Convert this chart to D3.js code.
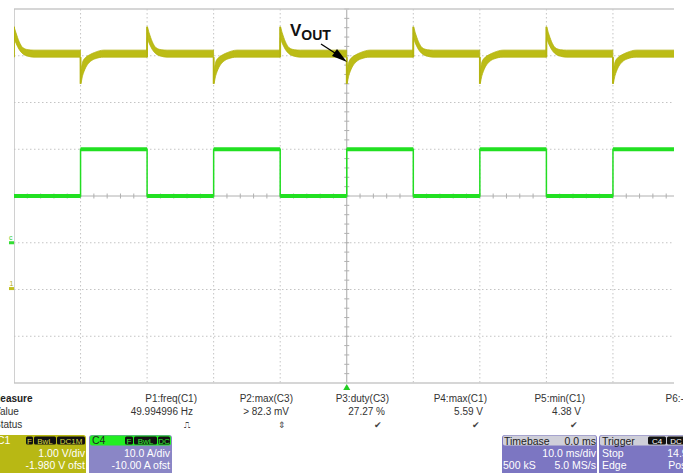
<!DOCTYPE html>
<html><head><meta charset="utf-8">
<script src="https://cdn.jsdelivr.net/npm/d3@7"></script>
<style>
html,body{margin:0;padding:0;background:#fff;}
svg{display:block;font-family:"Liberation Sans",Arial,sans-serif;}
</style></head>
<body><svg id="c" width="683" height="473"></svg>
<script>
// ---- data ----
const timeDomainMs = [-50, 50];            // 10 ms/div, 10 divisions
const c1Center = 1.98, c1VoltsPerDiv = 1.0; // -1.980 V offset, 1.00 V/div
const c4Center = 10,  c4AmpsPerDiv = 10;    // -10.00 A offset, 10.0 A/div
const loadTimesMs = [-50, -40, -30, -20, -10, 0, 10, 20, 30, 40, 50];
const loadAmps    = [10, 20, 10, 20, 10, 20, 10, 20, 10, 20, 20];
const loadStepUpMs   = [-40, -20, 0, 20, 40];      // Vout dips
const loadStepDownMs = [-50, -30, -10, 10, 30];    // Vout overshoots
const baselineBand = [4.95, 5.10];                  // V (lo, hi)
// [ms after edge, lo V, hi V]
const overshootShape = [[0,5.35,5.60],[0.3,5.25,5.47],[0.75,5.12,5.29],[1.35,5.02,5.15],[2.1,4.97,5.11],[3.0,4.95,5.10]];
const dipShape       = [[0,4.38,4.66],[0.3,4.55,4.84],[0.75,4.72,4.94],[1.35,4.84,5.00],[2.1,4.91,5.05],[3.5,4.95,5.10]];
const measHeaders = ["P1:freq(C1)","P2:max(C3)","P3:duty(C3)","P4:max(C1)","P5:min(C1)","P6:- -"];
const measValues  = ["49.994996 Hz","> 82.3 mV","27.27 %","5.59 V","4.38 V",""];
const measStatus  = ["\u238D","\u21D5","\u2714","\u2714","\u2714",""];

// ---- layout ----
const svg = d3.select("#c");
const L = 14, R = 679.5, T = 9, B = 383, CLIPR = 674;
const x = d3.scaleLinear().domain(timeDomainMs).range([L, R]);
const yV = d3.scaleLinear().domain([c1Center - 4*c1VoltsPerDiv, c1Center + 4*c1VoltsPerDiv]).range([B, T]);
const yA = d3.scaleLinear().domain([c4Center - 4*c4AmpsPerDiv, c4Center + 4*c4AmpsPerDiv]).range([B, T]);

svg.append("defs").append("clipPath").attr("id","pc")
  .append("rect").attr("x", L).attr("y", T-2).attr("width", CLIPR-L).attr("height", B-T+4);
const g = svg.append("g").attr("clip-path","url(#pc)");

// grid
const xt = d3.range(-50, 51, 10), yt = d3.range(-4, 5, 1);
g.selectAll(".vg").data(xt.filter(d=>d!==0 && d!==-50)).join("line")
  .attr("x1", d=>x(d)).attr("x2", d=>x(d)).attr("y1", T).attr("y2", B)
  .attr("stroke","#c4c4c4").attr("stroke-dasharray","1.5,2.5").attr("stroke-width",1);
g.selectAll(".hg").data(yt.filter(d=>d!==0 && Math.abs(d)!==4)).join("line")
  .attr("x1", L).attr("x2", R).attr("y1", d=>yA(c4Center + d*c4AmpsPerDiv)).attr("y2", d=>yA(c4Center + d*c4AmpsPerDiv))
  .attr("stroke","#c4c4c4").attr("stroke-dasharray","1.5,2.5").attr("stroke-width",1);
// center cross with minor ticks
const cy = yA(c4Center), cx = x(0);
g.append("line").attr("x1",L).attr("x2",R).attr("y1",cy).attr("y2",cy).attr("stroke","#b0b0b0");
g.append("line").attr("x1",cx).attr("x2",cx).attr("y1",T).attr("y2",B).attr("stroke","#a8a8a8");
const minorX = d3.range(-50, 50.01, 2), minorY = d3.range(-4, 4.01, 0.2);
g.selectAll(".mx").data(minorX).join("line").attr("x1",d=>x(d)).attr("x2",d=>x(d)).attr("y1",cy-2.5).attr("y2",cy+2.5).attr("stroke","#b0b0b0");
g.selectAll(".my").data(minorY).join("line").attr("y1",d=>yA(c4Center+d*c4AmpsPerDiv)).attr("y2",d=>yA(c4Center+d*c4AmpsPerDiv)).attr("x1",cx-2.5).attr("x2",cx+2.5).attr("stroke","#b0b0b0");
// border
g.append("line").attr("x1",L).attr("x2",R).attr("y1",T).attr("y2",T).attr("stroke","#c8c8c8").attr("stroke-width",1.5);
g.append("line").attr("x1",L).attr("x2",R).attr("y1",B).attr("y2",B).attr("stroke","#c8c8c8").attr("stroke-width",1.5);
g.append("line").attr("x1",L).attr("x2",L).attr("y1",T).attr("y2",B).attr("stroke","#c0c0c0").attr("stroke-width",1.5);

// ---- C1 (Vout) trace envelope ----
const edges = loadStepUpMs.map(t=>({t, s:dipShape})).concat(loadStepDownMs.map(t=>({t, s:overshootShape}))).sort((a,b)=>a.t-b.t);
const pts = [];
edges.forEach((e,i)=>{
  e.s.forEach(p=>pts.push({t:e.t+p[0], lo:p[1], hi:p[2]}));
  const next = i < edges.length-1 ? edges[i+1].t : timeDomainMs[1];
  pts.push({t: next - 0.02, lo: baselineBand[0], hi: baselineBand[1]});
});
const area = d3.area().x(d=>x(d.t)).y0(d=>yV(d.lo)).y1(d=>yV(d.hi)).curve(d3.curveMonotoneX);
g.append("path").datum(pts).attr("d", area).attr("fill","#bcbc16").attr("stroke","#b4b410").attr("stroke-width",0.8);
// vertical edge jumps
g.selectAll(".ej").data(edges).join("line")
  .attr("x1",d=>x(d.t)).attr("x2",d=>x(d.t))
  .attr("y1",yV(baselineBand[0])).attr("y2",d=>yV(d.s===dipShape ? d.s[0][1] : d.s[0][2]))
  .attr("stroke","#b4b410").attr("stroke-width",1.8);

// ---- C4 (load current) ----
const load = loadTimesMs.map((t,i)=>({t, a:loadAmps[i]}));
g.append("path").datum(load).attr("d", d3.line().x(d=>x(d.t)).y(d=>yA(d.a)).curve(d3.curveStepAfter))
  .attr("fill","none").attr("stroke","#22dd22").attr("stroke-width",1.5);
g.selectAll(".ls").data(load.slice(0,-1)).join("line")
  .attr("x1",d=>x(d.t)).attr("x2",(d,i)=>x(load[i+1].t)).attr("y1",d=>yA(d.a)).attr("y2",d=>yA(d.a))
  .attr("stroke","#22e022").attr("stroke-width",4);

// ground markers
svg.append("rect").attr("x",9).attr("y",yA(0)-1.5).attr("width",5).attr("height",3).attr("fill","#33dd33");
svg.append("text").attr("x",9).attr("y",yA(0)-3).attr("font-size",7).attr("fill","#33cc33").text("c");
svg.append("rect").attr("x",9).attr("y",yV(0)-1.5).attr("width",5).attr("height",3).attr("fill","#c0c020");
svg.append("text").attr("x",9.5).attr("y",yV(0)-3).attr("font-size",7).attr("fill","#b0b020").text("1");
// trigger marker
svg.append("path").attr("d",`M${cx-3.5},${B+7}L${cx+3.5},${B+7}L${cx},${B+1}Z`).attr("fill","#22cc22");

// ---- Vout annotation ----
const ann = svg.append("text").attr("x",290).attr("y",36).attr("font-weight","bold").attr("fill","#111");
ann.append("tspan").attr("font-size",17).text("V");
ann.append("tspan").attr("font-size",14).attr("dy",4).text("OUT");
svg.append("line").attr("x1",321).attr("y1",44).attr("x2",338).attr("y2",55).attr("stroke","#000").attr("stroke-width",1.3);
svg.append("path").attr("d","M347,62L332,56L337,49Z").attr("fill","#000");

// ---- Measure table ----
const colRight = [197, 293, 389, 487, 585, 690];
const mt = svg.append("g").attr("font-size",10).attr("fill","#333");
mt.append("text").attr("x",-8).attr("y",402).attr("font-weight","bold").attr("fill","#222").text("Measure");
mt.append("text").attr("x",-6).attr("y",415).text("Value");
mt.append("text").attr("x",-6).attr("y",428).text("Status");
measHeaders.forEach((h,i)=>{
  mt.append("text").attr("x",colRight[i]).attr("y",402).attr("text-anchor","end").text(h);
  mt.append("text").attr("x",colRight[i]-4).attr("y",415).attr("text-anchor","end").text(measValues[i]);
  mt.append("text").attr("x",colRight[i]-7).attr("y",428).attr("text-anchor","end").attr("font-size",9).attr("fill","#444").text(measStatus[i]);
});

// ---- channel / timebase boxes ----
function box(x0, w, fill, hdrFill) {
  const b = svg.append("g");
  b.append("rect").attr("x",x0).attr("y",435).attr("width",w).attr("height",40).attr("rx",3).attr("fill",fill);
  b.append("rect").attr("x",x0+1).attr("y",435.5).attr("width",w-2).attr("height",10).attr("rx",2).attr("fill",hdrFill);
  return b;
}
function tag(b, x0, w, label, col) {
  b.append("rect").attr("x",x0).attr("y",436.5).attr("width",w).attr("height",8).attr("rx",1.5).attr("fill","#111");
  b.append("text").attr("x",x0+w/2).attr("y",443.5).attr("text-anchor","middle").attr("font-size",8).attr("fill",col).text(label);
}
const fs = 10.5;
// C1
const b1 = box(-4, 90, "#b8b814", "#b8b814");
b1.append("text").attr("x",-3).attr("y",444).attr("font-size",fs).attr("fill","#fff").text("C1");
tag(b1, 26, 7, "F", "#d8d840"); tag(b1, 34, 22, "BwL", "#d8d840"); tag(b1, 57, 28, "DC1M", "#d8d840");
b1.append("text").attr("x",85).attr("y",457).attr("text-anchor","end").attr("font-size",fs).attr("fill","#fff").text("1.00 V/div");
b1.append("text").attr("x",85).attr("y",469).attr("text-anchor","end").attr("font-size",fs).attr("fill","#fff").text("-1.980 V ofst");
// C4
const b4 = box(89, 83, "#8a86c6", "#22ee22");
b4.append("text").attr("x",92).attr("y",444).attr("font-size",fs).attr("fill","#222").text("C4");
tag(b4, 125, 8, "F", "#33ee33"); tag(b4, 134, 23, "BwL", "#33ee33"); tag(b4, 158, 12, "DC", "#33ee33");
b4.append("text").attr("x",170).attr("y",457).attr("text-anchor","end").attr("font-size",fs).attr("fill","#fff").text("10.0 A/div");
b4.append("text").attr("x",170).attr("y",469).attr("text-anchor","end").attr("font-size",fs).attr("fill","#fff").text("-10.00 A ofst");
// Timebase
const bt = box(502, 95, "#7c76c2", "#cfcfd9");
bt.append("text").attr("x",504).attr("y",444.5).attr("font-size",fs).attr("fill","#222").text("Timebase");
bt.append("text").attr("x",596).attr("y",444.5).attr("text-anchor","end").attr("font-size",fs).attr("fill","#222").text("0.0 ms");
bt.append("text").attr("x",596).attr("y",457).attr("text-anchor","end").attr("font-size",fs).attr("fill","#fff").text("10.0 ms/div");
bt.append("text").attr("x",503).attr("y",469).attr("font-size",fs).attr("fill","#fff").text("500 kS");
bt.append("text").attr("x",596).attr("y",469).attr("text-anchor","end").attr("font-size",fs).attr("fill","#fff").text("5.0 MS/s");
// Trigger
const bg = box(599, 100, "#7c76c2", "#cfcfd9");
bg.append("text").attr("x",602).attr("y",444.5).attr("font-size",fs).attr("fill","#222").text("Trigger");
tag(bg, 648, 18, "C4", "#fff"); tag(bg, 667, 18, "DC", "#fff");
bg.append("text").attr("x",602).attr("y",457).attr("font-size",fs).attr("fill","#fff").text("Stop");
bg.append("text").attr("x",697).attr("y",457).attr("text-anchor","end").attr("font-size",fs).attr("fill","#fff").text("14.9 A");
bg.append("text").attr("x",602).attr("y",469).attr("font-size",fs).attr("fill","#fff").text("Edge");
bg.append("text").attr("x",705).attr("y",469).attr("text-anchor","end").attr("font-size",fs).attr("fill","#fff").text("Positive");
</script></body></html>
